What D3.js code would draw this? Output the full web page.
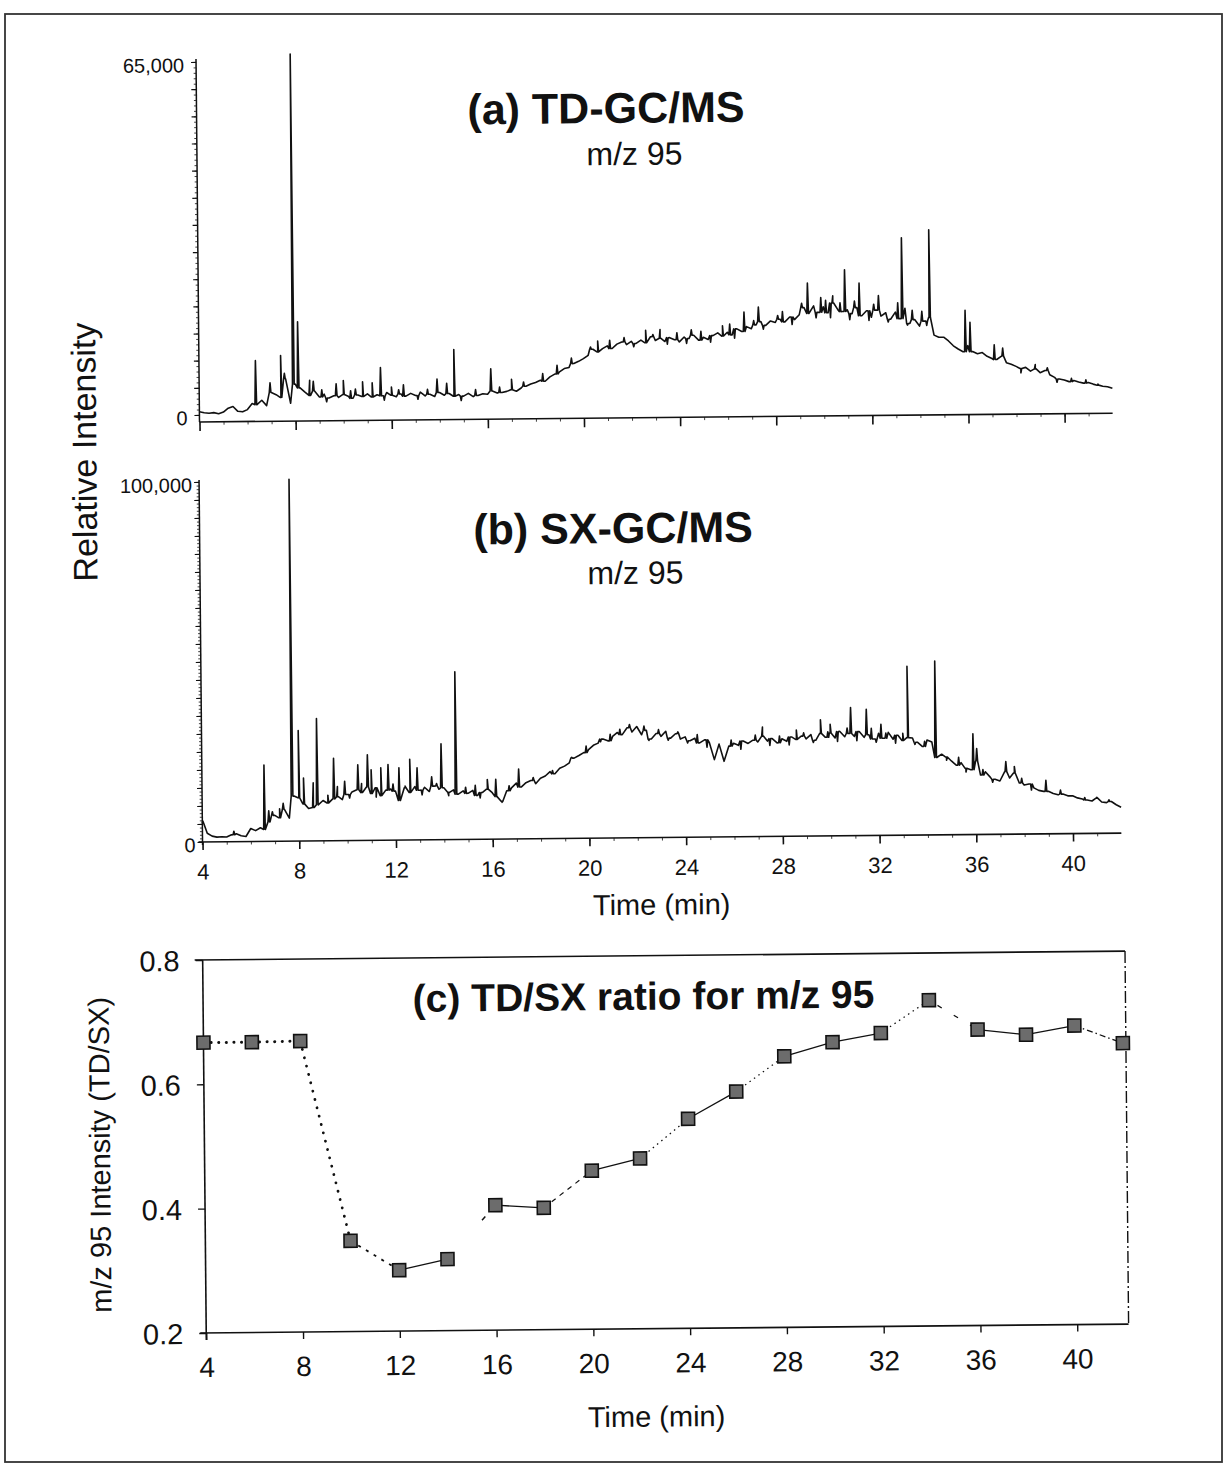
<!DOCTYPE html>
<html><head><meta charset="utf-8">
<script src="https://cdn.jsdelivr.net/npm/d3@7"></script>
<style>
html,body{margin:0;padding:0;background:#fff;}
svg{display:block;}
text{font-family:"Liberation Sans",Arial,Helvetica,sans-serif;fill:#111;}
</style></head><body>
<svg id="chart" width="1226" height="1466"></svg>
<script>
// ---------------- DATA ----------------
// chromatogram sampling: 4.0 .. 42.0 min, every 0.2 min (values in thousands of counts)
const timeStart = 4, timeStep = 0.2;

// (a) TD-GC/MS, m/z 95
const tdValues = [
  0.6,0.4,0.3,0.4,0.2,   0.5,1.2,1.5,0.6,0.5,   0.9,2.0,1.8,2.6,1.6,   4.0,3.6,3.1,6.5,2.0,
  5.5,4.8,4.0,3.4,4.2,   3.1,3.6,2.9,3.3,3.0,   3.5,3.2,2.8,3.4,3.1,   3.6,3.0,3.4,3.2,3.8,
  3.3,3.0,3.5,3.1,3.6,   3.2,3.8,3.1,3.4,3.0,   3.7,3.2,3.5,3.0,3.3,   3.0,3.5,2.9,3.1,3.4,
  3.3,3.9,3.5,3.6,3.8,   4.1,3.8,4.4,4.7,5.1,   5.4,5.8,5.6,6.4,6.9,   7.3,7.9,8.1,8.8,9.2,
  9.7,10.3,11.4,10.9,11.5, 12.0,11.5,12.3,12.7,12.2, 12.8,12.4,13.0,12.5,13.6, 12.9,13.3,12.7,13.4,13.0,
  12.6,13.5,13.2,13.8,12.9, 13.4,13.0,13.7,14.2,13.6, 14.3,13.8,14.9,14.4,15.3, 14.9,15.6,16.2,15.5,16.3,
  16.0,16.6,16.1,17.0,16.5, 17.4,18.7,17.6,19.0,17.8, 18.8,17.7,19.5,18.3,17.9, 18.2,17.5,18.6,17.1,18.0,
  16.8,18.1,17.0,17.6,16.4, 17.7,16.5,18.4,15.6,16.3, 15.1,16.0,16.7,13.4,13.0, 13.0,12.3,11.4,10.8,10.3,
  11.4,10.3,9.9,10.1,9.4, 9.0,8.8,9.4,8.2,7.9, 7.5,7.1,7.3,6.6,7.0, 6.3,6.7,5.9,5.4,5.1,
  4.9,4.6,4.8,4.5,4.3, 4.4,4.1,3.9,3.7,3.6,
  3.3
];
// sharp peaks and small noise spikes [time, apex]
const tdPeaks = [
  [6.35,9.9],[6.95,5.8],[7.4,10.8],[7.55,7.5],[7.92,66.3],[8.12,17.0],[8.6,6.2],[8.75,6.0],
  [9.1,4.4],[9.7,5.5],[10.0,6.1],[10.5,4.5],[10.8,5.8],[11.2,5.6],[11.55,8.4],[12.0,4.8],
  [12.5,5.2],[13.9,6.2],[14.3,5.4],[14.61,11.6],[16.14,8.0],[17.0,6.0],[20.6,12.9],[22.6,14.8],
  [23.2,14.9],[24.5,14.8],[25.8,15.5],[26.7,18.0],[27.3,18.9],[28.3,18.0],[29.35,23.2],[29.9,20.5],
  [30.4,20.8],[30.9,25.6],[31.5,23.1],[32.3,20.8],[33.1,19.4],[33.28,31.4],[34.1,17.8],[34.42,32.8],
  [35.9,17.9],[36.1,15.7],[37.1,11.5],[37.45,10.9],[38.8,7.8],[39.3,7.2],[40.9,4.9],[41.4,4.1],
  [9.3,2.2],[10.3,4.2],[11.7,2.4],[12.3,4.3],[13.1,2.5],[13.5,4.3],[14.9,2.2],[15.5,4.2],[16.5,4.6],
  [17.5,5.5],[18.3,7.0],[18.9,8.5],[19.5,9.8],[20.3,11.8],[21.1,13.0],[21.7,13.5],[22.1,11.8],
  [22.9,14.0],[23.5,12.2],[23.9,14.3],[24.3,12.3],[24.9,14.5],[25.3,12.5],[26.1,15.8],[26.3,13.2],
  [27.1,16.4],[27.5,14.8],[28.1,17.3],[28.7,15.6],[29.1,19.5],[29.7,16.8],[30.1,20.0],[30.3,16.8],
  [30.7,19.5],[31.1,16.4],[31.3,19.8],[31.9,16.2],[32.1,19.2],[32.7,15.9],[33.5,15.3],[33.7,18.0],
  [34.3,15.2],[38.2,6.3],[39.7,4.5],[40.3,5.2]
];

// (b) SX-GC/MS, m/z 95
const sxValues = [
  5.2,2.4,1.6,1.3,1.4,   1.3,1.9,2.2,1.6,1.4,   3.6,3.0,3.8,3.3,5.4,   7.2,6.5,8.8,6.4,12.5,
  12.0,10.3,9.0,9.3,10.0, 11.2,10.5,11.6,12.2,11.4, 12.8,13.5,14.1,13.3,14.8, 13.0,14.6,12.4,13.9,14.2,
  13.6,11.0,14.5,13.2,14.8, 13.8,14.6,13.4,14.9,14.0, 14.4,13.1,13.8,12.6,13.5, 12.8,13.6,12.2,13.0,13.9,
  12.9,11.8,10.5,13.4,14.2, 15.5,14.4,15.6,16.2,15.3, 16.8,17.4,18.6,18.0,19.5, 20.1,21.0,22.3,23.0,23.8,
  24.6,25.8,26.4,27.5,27.0, 28.2,29.3,28.7,30.6,29.4, 30.9,28.6,29.8,27.4,28.9, 28.1,29.5,27.6,28.8,27.3,
  27.9,26.8,27.5,26.2,27.0, 26.2,21.5,25.8,21.0,25.2, 26.0,25.4,26.6,25.9,26.8, 26.3,27.9,26.5,27.2,26.0,
  27.1,26.4,27.6,26.9,27.8, 27.0,28.2,26.6,28.5,27.4, 28.6,27.2,29.0,27.5,28.4, 27.6,28.9,27.3,28.0,26.8,
  28.4,27.0,28.6,26.7,27.8, 26.3,27.1,27.0,25.8,24.6, 26.4,25.8,21.5,22.4,21.6, 20.5,19.3,20.0,18.4,18.0,
  20.4,16.5,17.4,15.9,15.3, 14.8,17.4,15.6,17.0,14.2, 13.6,13.9,12.8,12.1,11.8, 11.8,11.2,10.8,11.0,10.5,
  10.5,9.9,9.6,9.3,9.0, 9.8,8.7,8.5,8.8,7.9,
  7.2
];
const sxPeaks = [
  [4.02,5.8],[5.3,2.9],[6.57,21.2],[6.75,8.5],[6.9,8.2],[7.2,9.0],[7.35,10.5],[7.72,100.5],
  [8.0,30.7],[8.2,17.5],[8.6,16.1],[8.76,34.0],[9.45,22.9],[9.6,15.0],[9.9,16.5],[10.45,21.0],
  [10.85,23.8],[11.0,19.6],[11.4,20.1],[11.7,21.0],[12.15,20.1],[12.6,22.4],[12.9,20.0],[13.5,17.5],
  [13.9,26.6],[14.5,46.6],[15.3,15.0],[15.8,16.6],[16.15,16.6],[17.1,19.4],[21.7,31.5],[22.3,31.0],
  [27.2,30.4],[28.6,29.5],[29.6,32.3],[30.0,31.0],[30.85,35.6],[31.5,35.1],[32.1,30.9],[33.2,46.9],
  [34.35,48.3],[35.9,28.0],[36.05,23.9],[37.25,20.2],[37.6,18.8],[38.9,14.9],[41.0,10.0],[41.5,9.3],
  [9.2,12.6],[10.1,11.8],[10.6,15.8],[11.2,12.0],[11.9,15.6],[12.4,15.0],[13.1,12.5],[13.7,15.6],
  [14.2,12.2],[14.9,14.5],[15.5,11.5],[16.4,10.2],[16.7,14.8],[17.7,17.0],[18.5,18.9],[19.3,22.5],
  [19.9,25.6],[20.5,26.8],[20.9,28.8],[21.3,30.2],[22.5,27.0],[22.9,30.0],[23.3,27.0],[23.7,29.3],
  [24.1,26.2],[24.5,28.5],[24.9,25.0],[25.9,26.9],[26.3,24.3],[26.9,28.2],[27.5,25.3],[27.9,27.9],
  [28.3,25.4],[28.9,28.7],[29.3,26.0],[29.9,28.9],[30.3,26.2],[30.7,29.9],[31.1,26.4],[31.7,29.8],
  [31.9,25.9],[32.3,28.4],[32.7,25.6],[33.0,28.3],[33.5,25.2],[33.9,26.0],[34.8,20.7],[35.3,21.5],
  [35.6,17.4],[36.3,18.0],[36.7,14.5],[37.9,15.5],[38.3,12.2],[39.5,12.1],[40.5,10.0]
];

// (c) TD/SX ratio for m/z 95
const ratioTimes  = [4,6,8,10,12,14,16,18,20,22,24,26,28,30,32,34,36,38,40,42];
const ratioValues = [0.667,0.667,0.668,0.346,0.298,0.315,0.401,0.396,0.455,0.474,
                     0.537,0.580,0.636,0.658,0.672,0.724,0.676,0.667,0.681,0.652];

const timeTicks  = [4,8,12,16,20,24,28,32,36,40];
const tdYLabels  = [0,65];
const sxYLabels  = [0,100];
const ratioTicks = [0.2,0.4,0.6,0.8];

// ---------------- STYLE (line pattern of each ratio segment) ----------------
const segDash  = ["0.1,7.5","0.1,7.5","0.1,8.5","3,6",null,"0,52,5,200",null,"5,5",null,"1.5,4",
                  null,"1.5,4",null,null,"1.5,4","0,10,5,4",null,null,"6,3,1.5,3"];
const segWidth = [3,3,2.8,1.8,1.3,1.5,1.3,1.2,1.3,1.3,1.3,1.3,1.3,1.3,1.3,1.3,1.3,1.3,1.3];

// ---------------- DRAW ----------------
const INK = "#111";
const svg = d3.select("#chart");
svg.append("rect").attr("x",5).attr("y",14).attr("width",1217).attr("height",1448)
   .attr("fill","none").attr("stroke","#333").attr("stroke-width",1.8);

const root = svg.append("g").attr("transform","rotate(-0.55,613,733)");
const fmtK = d3.format(",");

function trace(values, peaks){
  const pts = values.map((v,i)=>[timeStart+i*timeStep, v]);
  peaks.forEach(([t,top])=>{
    const i = Math.max(0, Math.min(values.length-1, Math.round((t-timeStart)/timeStep)));
    const base = values[i];
    pts.push([t-0.035, base],[t, top],[t+0.035, base]);
  });
  pts.sort((a,b)=>a[0]-b[0]);
  return pts;
}
function line(g,x1,y1,x2,y2,w){
  return g.append("line").attr("x1",x1).attr("y1",y1).attr("x2",x2).attr("y2",y2)
    .attr("stroke",INK).attr("stroke-width",w||1.4);
}
function ticksOnly(g, axis, tx, ty, w){
  const a = g.append("g").attr("transform",`translate(${tx},${ty})`).call(axis);
  a.select(".domain").remove();
  a.selectAll("line").attr("stroke",INK).attr("stroke-width",w||1.2);
  return a;
}

// ----- panel (a)
const xA = d3.scaleLinear().domain([4,40]).range([202.5,1067.6]);
const yA = d3.scaleLinear().domain([0,65]).range([411,58]);
const axisYA = 418;
const gA = root.append("g");
gA.append("path").datum(trace(tdValues, tdPeaks))
  .attr("d", d3.line().x(d=>xA(d[0])).y(d=>yA(d[1])))
  .attr("fill","none").attr("stroke",INK).attr("stroke-width",1.6).attr("stroke-linejoin","round");
line(gA, xA(4), yA(65)-3, xA(4), axisYA, 1.5);
line(gA, xA(4), axisYA, xA(42), axisYA, 1.6);
ticksOnly(gA, d3.axisLeft(yA).tickValues(d3.range(0,66,1)).tickSize(2.5).tickSizeOuter(0).tickFormat(""), xA(4), 0, 0.8);
ticksOnly(gA, d3.axisLeft(yA).tickValues(d3.range(0,66,5)).tickSize(5).tickSizeOuter(0).tickFormat(""), xA(4), 0, 1.2);
ticksOnly(gA, d3.axisBottom(xA).tickValues(d3.range(5,42,1)).tickSize(3).tickSizeOuter(0).tickFormat(""), 0, axisYA, 0.8);
ticksOnly(gA, d3.axisBottom(xA).tickValues(timeTicks).tickSize(9).tickSizeOuter(0).tickFormat(""), 0, axisYA, 1.6);
gA.selectAll(".ylab").data(tdYLabels).join("text").attr("class","ylab")
  .attr("x", xA(4)-12).attr("y", d=>yA(d)+3).attr("dy","0.36em")
  .attr("text-anchor","end").attr("font-size",20).text(d=>fmtK(d*1000));
gA.append("text").attr("x",612).attr("y",123).attr("text-anchor","middle")
  .attr("font-size",43).attr("font-weight","bold").text("(a) TD-GC/MS");
gA.append("text").attr("x",640).attr("y",165).attr("text-anchor","middle")
  .attr("font-size",32).text("m/z 95");

// ----- panel (b)
const xB = d3.scaleLinear().domain([4,40]).range([201.5,1072]);
const yB = d3.scaleLinear().domain([0,100]).range([838,478]);
const axisYB = 838;
const gB = root.append("g");
gB.append("path").datum(trace(sxValues, sxPeaks))
  .attr("d", d3.line().x(d=>xB(d[0])).y(d=>yB(d[1])))
  .attr("fill","none").attr("stroke",INK).attr("stroke-width",1.6).attr("stroke-linejoin","round");
line(gB, xB(4), yB(100)-2, xB(4), axisYB+3, 1.5);
line(gB, xB(4)-4, axisYB, xB(42), axisYB, 1.6);
ticksOnly(gB, d3.axisLeft(yB).tickValues(d3.range(0,101,1)).tickSize(2.5).tickSizeOuter(0).tickFormat(""), xB(4), 0, 0.8);
ticksOnly(gB, d3.axisLeft(yB).tickValues(d3.range(0,101,5)).tickSize(5).tickSizeOuter(0).tickFormat(""), xB(4), 0, 1.2);
ticksOnly(gB, d3.axisBottom(xB).tickValues(d3.range(5,42,1)).tickSize(3).tickSizeOuter(0).tickFormat(""), 0, axisYB, 0.8);
const axB = ticksOnly(gB, d3.axisBottom(xB).tickValues(timeTicks).tickSize(8).tickSizeOuter(0).tickFormat(d3.format("d")), 0, axisYB, 1.6);
axB.selectAll("text").attr("y",37.5).attr("dy",null).attr("font-size",22).attr("fill",INK);
gB.selectAll(".ylab").data(sxYLabels).join("text").attr("class","ylab")
  .attr("x", xB(4)-7).attr("y", d=>yB(d)+3).attr("dy","0.36em")
  .attr("text-anchor","end").attr("font-size",20).text(d=>fmtK(d*1000));
gB.append("text").attr("x",615).attr("y",543).attr("text-anchor","middle")
  .attr("font-size",43).attr("font-weight","bold").text("(b) SX-GC/MS");
gB.append("text").attr("x",637).attr("y",584).attr("text-anchor","middle")
  .attr("font-size",32).text("m/z 95");
gB.append("text").attr("x",660).attr("y",915).attr("text-anchor","middle")
  .attr("font-size",29).text("Time (min)");

root.append("text").attr("transform","translate(99,447) rotate(-90)")
  .attr("text-anchor","middle").attr("font-size",34).text("Relative Intensity");

// ----- panel (c)
const xC = d3.scaleLinear().domain([4,40]).range([200.5,1071.5]);
const yC = d3.scaleLinear().domain([0.2,0.8]).range([1329,956]);
const gC = root.append("g");
const rightX = xC(42)+3;
line(gC, xC(4), yC(0.8), xC(4), yC(0.2)+7, 1.6);
line(gC, xC(4)-6, yC(0.2), rightX, yC(0.2), 1.6);
line(gC, xC(4)-8, yC(0.8), rightX, yC(0.8), 1.6);
line(gC, rightX, yC(0.8), rightX, yC(0.2), 1.4).attr("stroke-dasharray","12,3,2,3");
const axCy = ticksOnly(gC, d3.axisLeft(yC).tickValues(ratioTicks).tickSize(7).tickSizeOuter(0).tickFormat(d3.format(".1f")), xC(4), 0, 1.4);
axCy.selectAll("text").attr("x",-23).attr("dy","0.36em").attr("font-size",29).attr("fill",INK);
const axCx = ticksOnly(gC, d3.axisBottom(xC).tickValues(timeTicks).tickSize(7).tickSizeOuter(0).tickFormat(d3.format("d")), 0, yC(0.2), 1.4);
axCx.selectAll("text").attr("y",44).attr("dy",null).attr("font-size",28).attr("fill",INK);

const pts = ratioTimes.map((t,i)=>[xC(t), yC(ratioValues[i])]);
for(let i=0;i<pts.length-1;i++){
  const l = line(gC, pts[i][0], pts[i][1], pts[i+1][0], pts[i+1][1], segWidth[i]);
  if(segDash[i]) l.attr("stroke-dasharray", segDash[i]);
  if(i<3) l.attr("stroke-linecap","round");
}
gC.selectAll(".mk").data(ratioTimes).join("rect").attr("class","mk")
  .attr("x",(d,i)=>xC(d)-6.5).attr("y",(d,i)=>yC(ratioValues[i])-6.5)
  .attr("width",13).attr("height",13)
  .attr("fill","#6c6c6c").attr("stroke",INK).attr("stroke-width",1.6);

gC.append("text").attr("x",641).attr("y",1010).attr("text-anchor","middle")
  .attr("font-size",39).attr("font-weight","bold").text("(c) TD/SX ratio for m/z 95");
gC.append("text").attr("x",650).attr("y",1427).attr("text-anchor","middle")
  .attr("font-size",29).text("Time (min)");
gC.append("text").attr("transform","translate(106,1150) rotate(-90)")
  .attr("text-anchor","middle").attr("font-size",29).text("m/z 95 Intensity (TD/SX)");
</script>
</body></html>
